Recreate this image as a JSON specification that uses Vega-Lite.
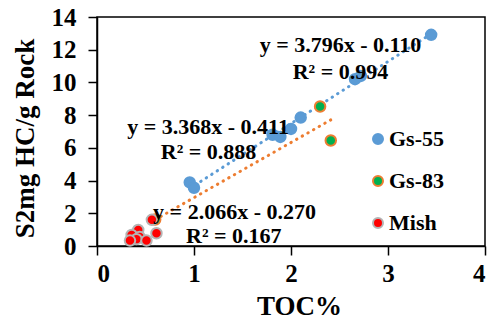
{
  "$schema": "https://vega.github.io/schema/vega-lite/v6.json",
  "width": 388,
  "height": 229,
  "autosize": {"type": "none"},
  "padding": {"left": 97, "top": 17, "right": 7, "bottom": 76},
  "background": "white",
  "config": {
    "view": {"stroke": "black", "strokeWidth": 1.5},
    "font": "Liberation Serif",
    "axis": {
      "grid": false,
      "domainColor": "black",
      "domainWidth": 1.5,
      "tickColor": "black",
      "tickWidth": 1.5,
      "tickSize": 9,
      "labelFont": "Liberation Serif",
      "labelFontWeight": "bold",
      "labelFontSize": 25,
      "labelColor": "black",
      "labelOverlap": false,
      "titleFont": "Liberation Serif",
      "titleFontWeight": "bold",
      "titleFontSize": 27,
      "titleColor": "black"
    }
  },
  "datasets": {
    "points": [
      {"Series": "Gs-55", "TOC": 0.956, "S2": 3.89},
      {"Series": "Gs-55", "TOC": 1.0, "S2": 3.56},
      {"Series": "Gs-55", "TOC": 1.81, "S2": 6.8},
      {"Series": "Gs-55", "TOC": 1.89, "S2": 6.67},
      {"Series": "Gs-55", "TOC": 2.0, "S2": 7.16},
      {"Series": "Gs-55", "TOC": 2.1, "S2": 7.85},
      {"Series": "Gs-55", "TOC": 2.66, "S2": 10.2},
      {"Series": "Gs-55", "TOC": 2.72, "S2": 10.4},
      {"Series": "Gs-55", "TOC": 3.445, "S2": 12.91},
      {"Series": "Gs-83", "TOC": 0.6, "S2": 1.62},
      {"Series": "Gs-83", "TOC": 2.3, "S2": 8.53},
      {"Series": "Gs-83", "TOC": 2.41, "S2": 6.45},
      {"Series": "Mish", "TOC": 0.566, "S2": 1.6},
      {"Series": "Mish", "TOC": 0.613, "S2": 0.78},
      {"Series": "Mish", "TOC": 0.425, "S2": 0.98},
      {"Series": "Mish", "TOC": 0.357, "S2": 0.68},
      {"Series": "Mish", "TOC": 0.44, "S2": 0.55},
      {"Series": "Mish", "TOC": 0.407, "S2": 0.42},
      {"Series": "Mish", "TOC": 0.34, "S2": 0.33},
      {"Series": "Mish", "TOC": 0.51, "S2": 0.33}
    ],
    "trends": [
      {"Series": "Gs-55", "TOC": 0.956, "S2": 3.52},
      {"Series": "Gs-55", "TOC": 3.445, "S2": 12.97},
      {"Series": "Gs-83", "TOC": 0.6, "S2": 1.61},
      {"Series": "Gs-83", "TOC": 2.41, "S2": 7.71}
    ],
    "labels": [
      {"text": "y = 3.796x - 0.110", "TOC": 2.51, "S2": 12.28},
      {"text": "R² = 0.994", "TOC": 2.51, "S2": 10.62},
      {"text": "y = 3.368x - 0.411", "TOC": 1.145, "S2": 7.3},
      {"text": "R² = 0.888", "TOC": 1.15, "S2": 5.77},
      {"text": "y = 2.066x - 0.270", "TOC": 1.418, "S2": 2.09},
      {"text": "R² = 0.167", "TOC": 1.41, "S2": 0.61}
    ]
  },
  "encoding": {
    "x": {
      "field": "TOC", "type": "quantitative",
      "scale": {"domain": [0, 4], "nice": false},
      "axis": {"values": [0, 1, 2, 3, 4], "format": "d", "title": "TOC%", "labelPadding": 6, "titleY": 68, "titleX": 202, "titleBaseline": "alphabetic"}
    },
    "y": {
      "field": "S2", "type": "quantitative",
      "scale": {"domain": [0, 14], "nice": false},
      "axis": {"values": [0, 2, 4, 6, 8, 10, 12, 14], "tickCount": 8, "format": "d", "title": "S2mg HC/g Rock", "labelPadding": 12, "titleX": -72, "titleY": 121, "titleBaseline": "middle", "titleAngle": -90}
    }
  },
  "layer": [
    {
      "data": {"name": "trends"},
      "transform": [{"filter": "datum.Series === 'Gs-55'"}],
      "mark": {"type": "line", "color": "#5B9BD5", "strokeWidth": 3, "strokeDash": [0.5, 6], "strokeCap": "round"}
    },
    {
      "data": {"name": "trends"},
      "transform": [{"filter": "datum.Series === 'Gs-83'"}],
      "mark": {"type": "line", "color": "#ED7D31", "strokeWidth": 3, "strokeDash": [0.5, 6], "strokeCap": "round"}
    },
    {
      "data": {"name": "points"},
      "mark": {"type": "point", "shape": "circle", "filled": false, "size": 110, "strokeWidth": 2, "fillOpacity": 1, "strokeOpacity": 1, "opacity": 1},
      "encoding": {
        "fill": {
          "field": "Series", "type": "nominal",
          "scale": {"domain": ["Gs-55", "Gs-83", "Mish"], "range": ["#5B9BD5", "#00B050", "#FF0000"]},
          "legend": {"title": null, "orient": "none", "legendX": 270, "legendY": 111, "symbolSize": 100, "symbolStrokeWidth": 2, "labelFont": "Liberation Serif", "labelFontWeight": "bold", "labelFontSize": 22, "labelColor": "black", "labelOffset": 0, "rowPadding": 20, "symbolType": "circle"}
        },
        "stroke": {
          "field": "Series", "type": "nominal",
          "scale": {"domain": ["Gs-55", "Gs-83", "Mish"], "range": ["#5B9BD5", "#ED7D31", "#B4B4B4"]},
          "legend": {"title": null, "orient": "none", "legendX": 270, "legendY": 111, "symbolSize": 100, "symbolStrokeWidth": 2, "labelFont": "Liberation Serif", "labelFontWeight": "bold", "labelFontSize": 22, "labelColor": "black", "labelOffset": 0, "rowPadding": 20, "symbolType": "circle"}
        }
      }
    },
    {
      "data": {"name": "labels"},
      "mark": {"type": "text", "font": "Liberation Serif", "fontWeight": "bold", "fontSize": 22, "color": "black", "align": "center", "baseline": "middle"},
      "encoding": {
        "text": {"field": "text"}
      }
    }
  ]
}
